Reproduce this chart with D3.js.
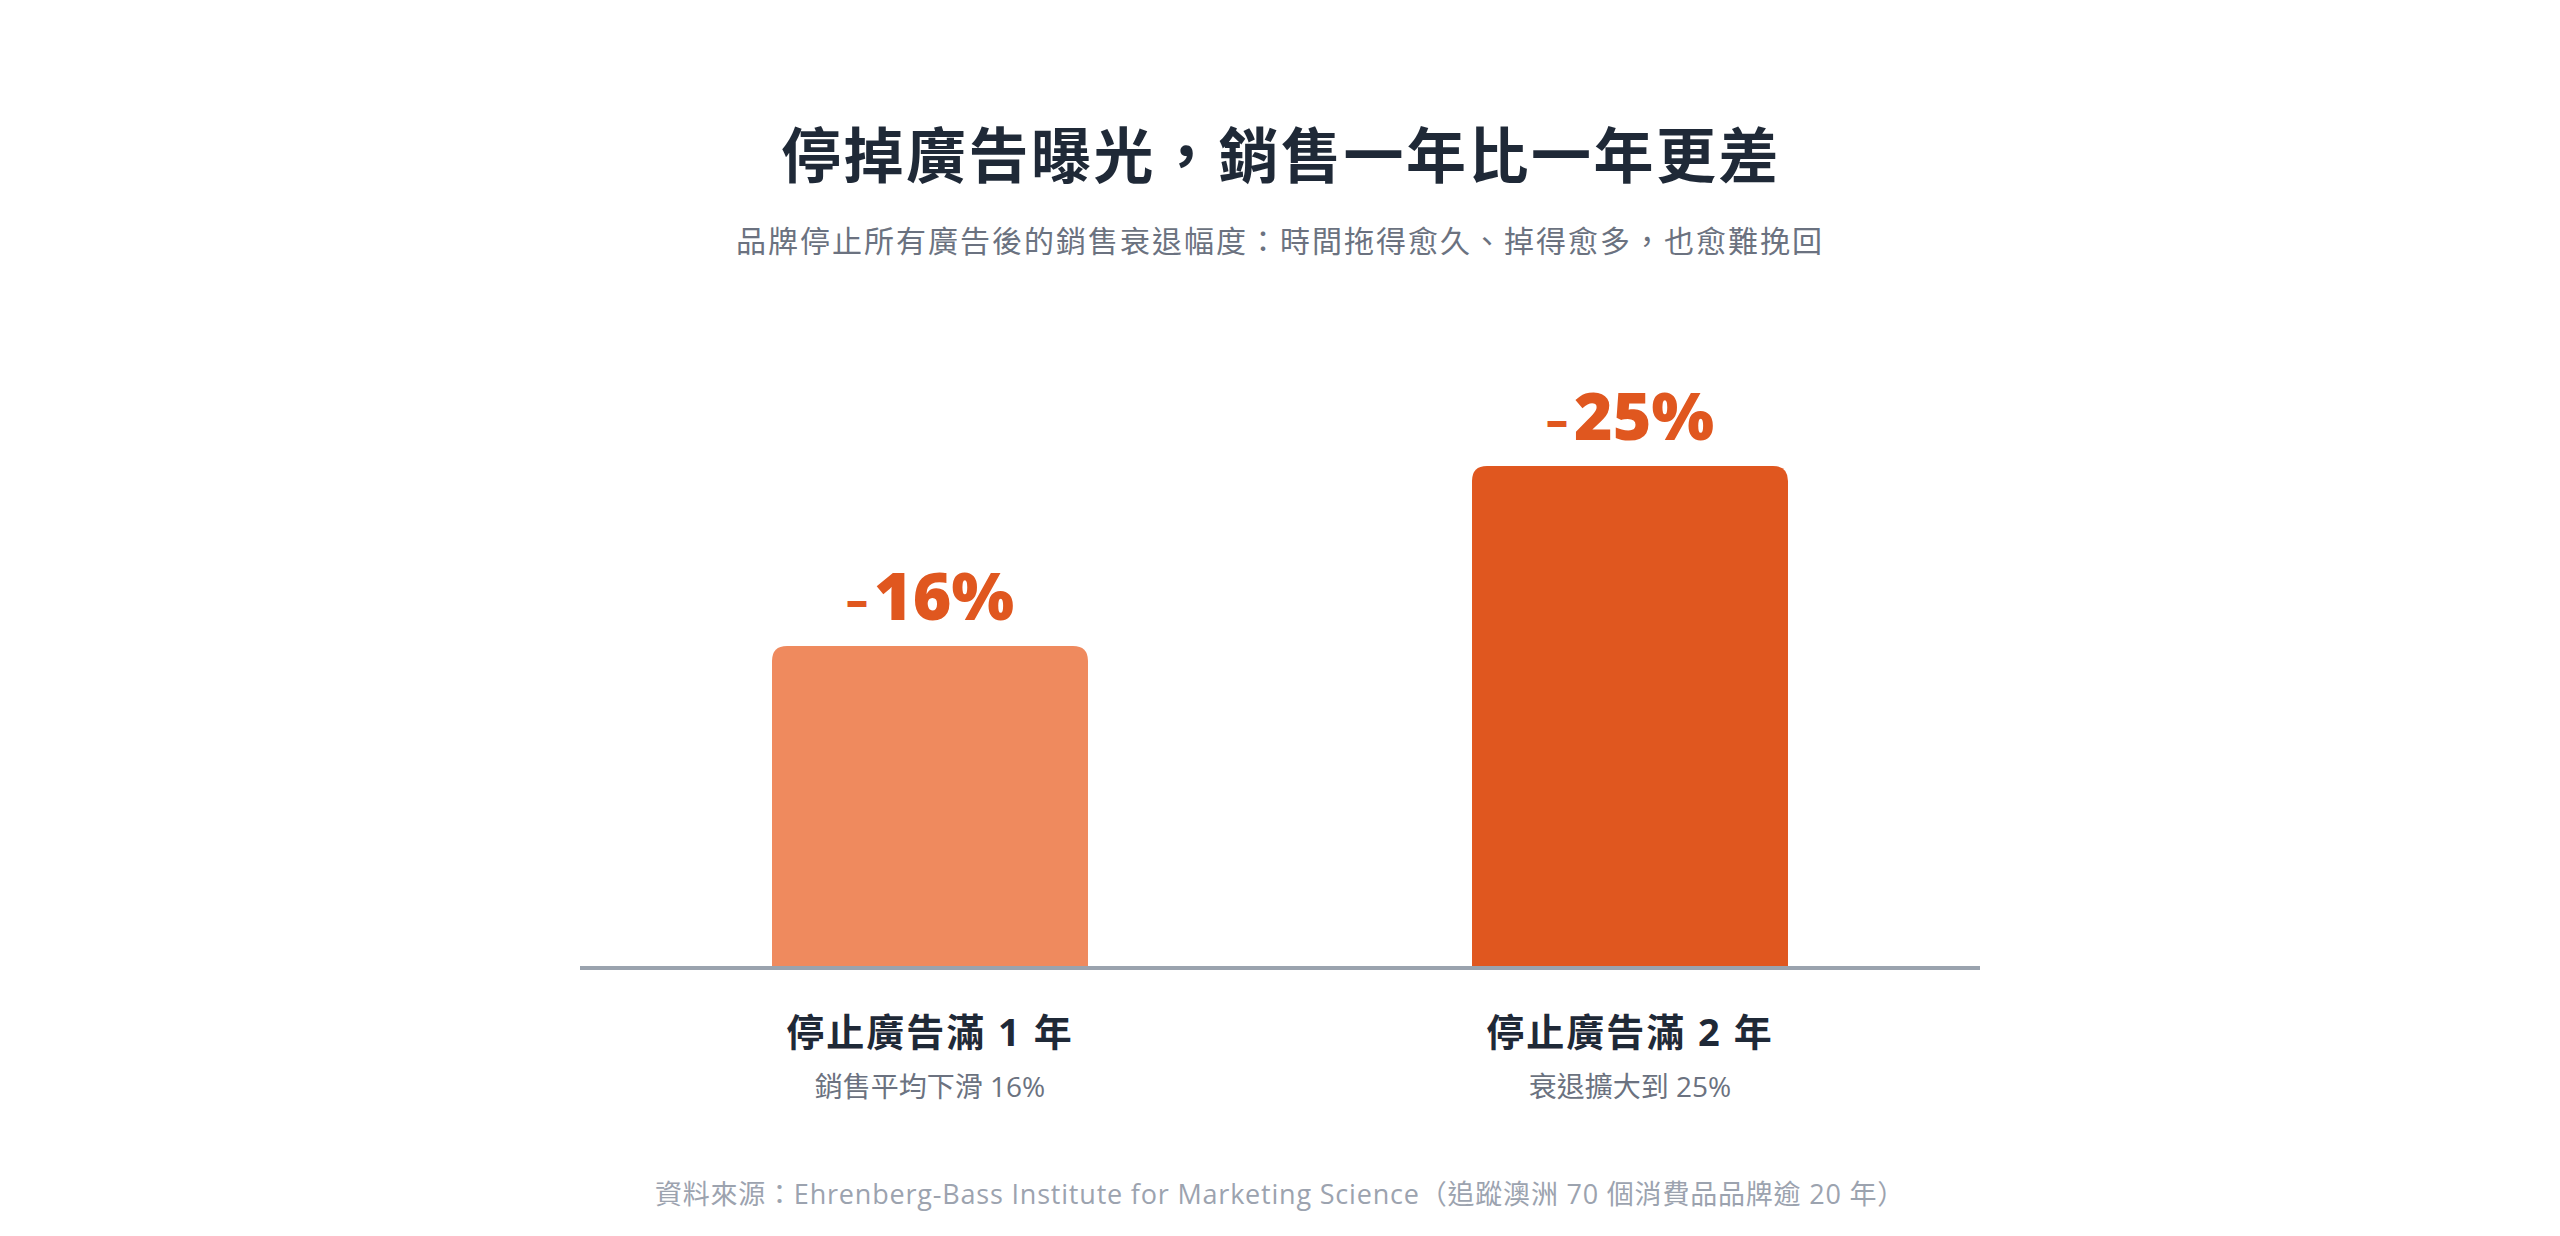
<!DOCTYPE html>
<html>
<head>
<meta charset="utf-8">
<script src="https://cdn.jsdelivr.net/npm/d3@7"></script>
<style>
  html, body { margin: 0; padding: 0; background: #ffffff; }
  svg { display: block; }
</style>
</head>
<body>
<svg id="chart" width="2560" height="1236"></svg>
<script>
// ---- data ----
const categories = ["停止廣告滿 1 年", "停止廣告滿 2 年"];
const subLabels = ["銷售平均下滑 16%", "衰退擴大到 25%"];
const declines = [16, 25];
const valueLabels = ["16%", "25%"];
const titleText = "停掉廣告曝光，銷售一年比一年更差";
const subtitleText = "品牌停止所有廣告後的銷售衰退幅度：時間拖得愈久、掉得愈多，也愈難挽回";
const sourceText = "資料來源：Ehrenberg-Bass Institute for Marketing Science（追蹤澳洲 70 個消費品品牌逾 20 年）";

// ---- styles ----
const barColors = ["#ef8a5e", "#e0571f"];
const labelColor = "#e0571f";
const cjk = "'Open Sans', 'Noto Sans CJK TC', sans-serif";

const svg = d3.select("#chart");
const W = 2560;
const baseY = 966;

const x = d3.scaleBand()
  .domain(categories)
  .range([580, 1980])
  .paddingInner(0.5486)
  .paddingOuter(0.2743);

const y = d3.scaleLinear().domain([0, 25]).range([baseY, 466]);

// title
svg.append("text")
  .attr("x", W / 2 + 1).attr("y", 151)
  .attr("text-anchor", "middle")
  .attr("dominant-baseline", "central")
  .attr("font-family", "'Noto Sans CJK TC', sans-serif")
  .attr("font-weight", 700)
  .attr("font-size", 60)
  .attr("letter-spacing", 2.5)
  .attr("fill", "#1f2937")
  .text(titleText);

// subtitle
svg.append("text")
  .attr("x", W / 2).attr("y", 240)
  .attr("text-anchor", "middle")
  .attr("dominant-baseline", "central")
  .attr("font-family", cjk)
  .attr("font-weight", 400)
  .attr("font-size", 30)
  .attr("letter-spacing", 2)
  .attr("fill", "#6b7280")
  .text(subtitleText);

// bars with rounded top corners
const r = 15;
function barPath(x0, y0, w, h) {
  const rr = Math.min(r, h, w / 2);
  return `M${x0},${y0 + h}` +
    `V${y0 + rr}` +
    `Q${x0},${y0} ${x0 + rr},${y0}` +
    `H${x0 + w - rr}` +
    `Q${x0 + w},${y0} ${x0 + w},${y0 + rr}` +
    `V${y0 + h}Z`;
}

svg.selectAll("path.bar")
  .data(declines)
  .join("path")
  .attr("class", "bar")
  .attr("fill", (d, i) => barColors[i])
  .attr("d", (d, i) => barPath(x(categories[i]), y(d), x.bandwidth(), baseY - y(d)));

// baseline axis
svg.append("line")
  .attr("x1", x.range()[0]).attr("x2", x.range()[1])
  .attr("y1", baseY + 2).attr("y2", baseY + 2)
  .attr("stroke", "#9aa3ae")
  .attr("stroke-width", 4);

// value labels
const vl = svg.selectAll("text.val")
  .data(declines)
  .join("text")
  .attr("class", "val")
  .attr("x", (d, i) => x(categories[i]) + x.bandwidth() / 2)
  .attr("y", d => y(d) - 26)
  .attr("text-anchor", "middle")
  .attr("font-family", "'Open Sans', sans-serif")
  .attr("font-weight", 800)
  .attr("fill", labelColor);
vl.append("tspan")
  .attr("font-size", 44)
  .attr("dy", -4)
  .text("–");
vl.append("tspan")
  .attr("font-size", 66)
  .attr("dx", 6)
  .attr("dy", 4)
  .text((d, i) => valueLabels[i]);

// category labels
svg.selectAll("text.cat")
  .data(categories)
  .join("text")
  .attr("class", "cat")
  .attr("x", d => x(d) + x.bandwidth() / 2)
  .attr("y", 1031)
  .attr("text-anchor", "middle")
  .attr("dominant-baseline", "central")
  .attr("font-family", cjk)
  .attr("font-weight", 700)
  .attr("font-size", 38)
  .attr("letter-spacing", 2)
  .attr("fill", "#1f2937")
  .text(d => d);

svg.selectAll("text.sub")
  .data(subLabels)
  .join("text")
  .attr("class", "sub")
  .attr("x", (d, i) => x(categories[i]) + x.bandwidth() / 2)
  .attr("y", 1086)
  .attr("text-anchor", "middle")
  .attr("dominant-baseline", "central")
  .attr("font-family", cjk)
  .attr("font-weight", 400)
  .attr("font-size", 28)
  .attr("fill", "#6b7280")
  .text(d => d);

// source
svg.append("text")
  .attr("x", W / 2).attr("y", 1193)
  .attr("text-anchor", "middle")
  .attr("dominant-baseline", "central")
  .attr("font-family", cjk)
  .attr("font-weight", 400)
  .attr("font-size", 27)
  .attr("letter-spacing", 0.8)
  .attr("fill", "#9ca3af")
  .text(sourceText);
</script>
</body>
</html>
